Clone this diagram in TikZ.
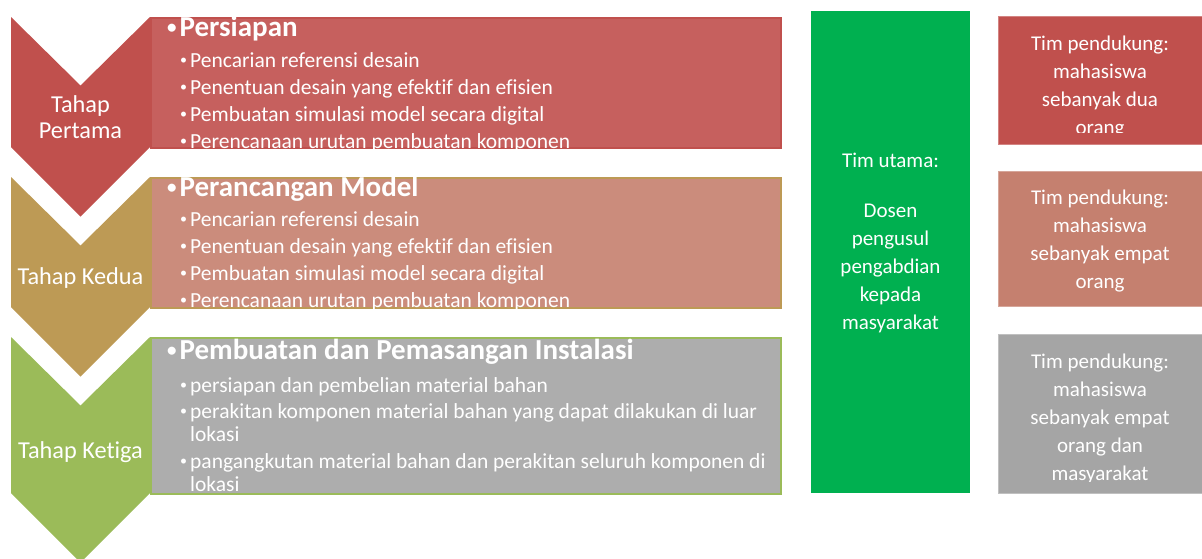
\documentclass[tikz,border=0pt]{standalone}
\usepackage{fontspec}
\setmainfont[Ligatures=NoCommon]{Carlito}
\usepackage{xcolor}
\usepackage{tikz}
\definecolor{stepred}{HTML}{C0504D}
\definecolor{boxred}{HTML}{C6605E}
\definecolor{steptan}{HTML}{BD9A55}
\definecolor{boxsalmon}{HTML}{CB8C7C}
\definecolor{stepgreen}{HTML}{9BBB59}
\definecolor{boxgray}{HTML}{ADADAD}
\definecolor{teamgreen}{HTML}{00B050}
\definecolor{teamsalmon}{HTML}{C5806F}
\definecolor{teamgray}{HTML}{A5A5A5}
\newcommand{\bul}{\llap{\raisebox{2.2pt}{\fontsize{14pt}{14pt}\selectfont\textbullet}\hspace{3pt}}}
\newcommand{\headbul}{\raisebox{2.5pt}{\fontsize{19pt}{19pt}\selectfont\textbullet}\hspace{3pt}}

\begin{document}
\begin{tikzpicture}[x=1pt,y=-1pt,
  every node/.style={text=white,inner sep=0pt},
  panel/.style={rectangle,anchor=north west,line width=1.5pt,minimum width=630pt},
  team/.style={rectangle,anchor=north west,line width=1pt,minimum width=204pt},
  steplabel/.style={font=\fontsize{24.3pt}{26pt}\selectfont,align=center,anchor=base},
  head/.style={font=\bfseries\fontsize{29pt}{30pt}\selectfont,anchor=base west},
  item/.style={font=\fontsize{21.5pt}{22pt}\selectfont,anchor=base west},
  teamtext/.style={font=\fontsize{21pt}{28pt}\selectfont,align=center,anchor=base}]
  \useasboundingbox (0,0) rectangle (1202,558);
  % chevrons
  \foreach \t/\b/\c in {17/147/stepred,177/307/steptan,337/493/stepgreen}
    \fill[\c] (11,\t) -- (80.5,\t+68.5) -- (150,\t) -- (150,\b) -- (80.5,\b+69.5) -- (11,\b) -- cycle;
  \node[steplabel] (lab1) at (80.5,138) {Tahap\\Pertama};
  \node[steplabel] (lab2) at (80.5,284) {Tahap Kedua};
  \node[steplabel] (lab3) at (80.5,458) {Tahap Ketiga};
  % panels
  \node[panel,fill=boxred,draw=stepred,minimum height=130pt] (prep) at (150,17) {};
  \node[panel,fill=boxsalmon,draw=steptan,minimum height=130pt] (model) at (150,177) {};
  \node[panel,fill=boxgray,draw=stepgreen,minimum height=156pt] (inst) at (150,337) {};
  \begin{scope}
    \clip (prep.north west) rectangle (prep.south east);
    \node[head] (prephead) at (167,36) {\headbul Persiapan};
    \foreach \txt [count=\i] in {Pencarian referensi desain,Penentuan desain yang efektif dan efisien,
      Pembuatan simulasi model secara digital,Perencanaan urutan pembuatan komponen}
      \node[item] (prep\i) at (190,{67+27*(\i-1)}) {\bul\txt};
  \end{scope}
  \begin{scope}
    \clip (model.north west) rectangle (model.south east);
    \node[head] (modelhead) at (167,196) {\headbul Perancangan Model};
    \foreach \txt [count=\i] in {Pencarian referensi desain,Penentuan desain yang efektif dan efisien,
      Pembuatan simulasi model secara digital,Perencanaan urutan pembuatan komponen}
      \node[item] (model\i) at (190,{226+27*(\i-1)}) {\bul\txt};
  \end{scope}
  \begin{scope}
    \clip (inst.north west) rectangle (inst.south east);
    \node[head] (insthead) at (167,359) {\headbul Pembuatan dan Pemasangan Instalasi};
    \node[item] (inst1) at (190,392) {\bul persiapan dan pembelian material bahan};
    \node[item] (inst2) at (190,418) {\bul perakitan komponen material bahan yang dapat dilakukan di luar};
    \node[item] (inst2b) at (190,441) {lokasi};
    \node[item] (inst3) at (190,468) {\bul pangangkutan material bahan dan perakitan seluruh komponen di};
    \node[item] (inst3b) at (190,491) {lokasi};
  \end{scope}
  % teams
  \node[rectangle,anchor=north west,fill=teamgreen,minimum width=159pt,minimum height=482pt] (main) at (811,11) {};
  \node[teamtext] (maintext) at (890.5,329) {Tim utama:\\[22pt]Dosen\\pengusul\\pengabdian\\kepada\\masyarakat};
  \node[team,fill=stepred,draw=stepred!70!white,minimum height=128pt] (supA) at (998,16) {};
  \node[team,fill=teamsalmon,draw=teamsalmon!70!white,minimum height=135pt] (supB) at (998,171) {};
  \node[team,fill=teamgray,draw=teamgray!70!white,minimum height=159pt] (supC) at (998,334) {};
  \begin{scope}
    \clip (supA.north west) rectangle (1202,132);
    \node[teamtext] (supAtext) at (1100,134) {Tim pendukung:\\mahasiswa\\sebanyak dua\\orang};
  \end{scope}
  \node[teamtext] (supBtext) at (1100,288) {Tim pendukung:\\mahasiswa\\sebanyak empat\\orang};
  \begin{scope}
    \clip (supC.north west) rectangle (1202,481);
    \node[teamtext] (supCtext) at (1100,480) {Tim pendukung:\\mahasiswa\\sebanyak empat\\orang dan\\masyarakat};
  \end{scope}
\end{tikzpicture}
\end{document}
